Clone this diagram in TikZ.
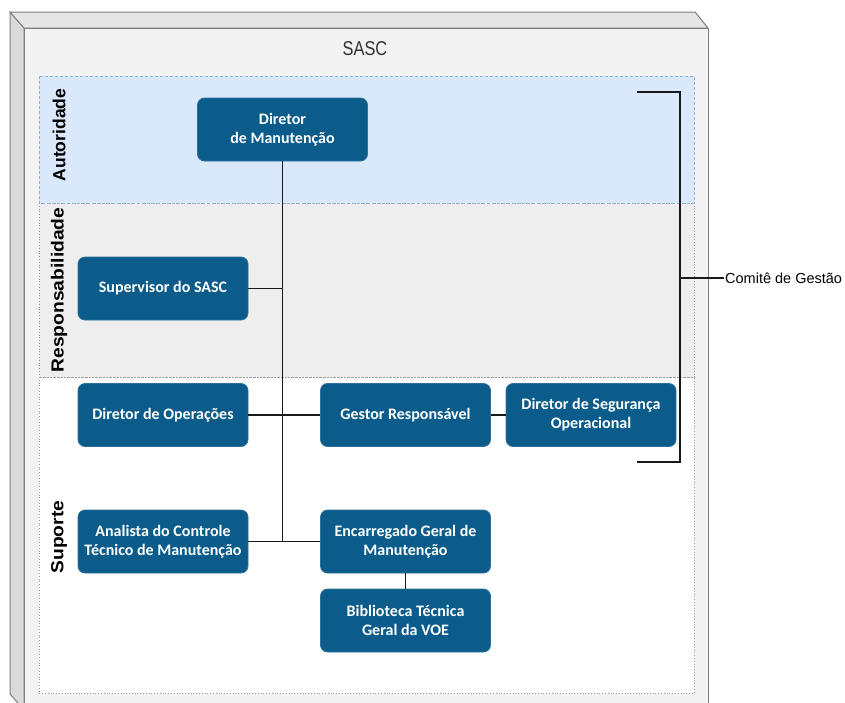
\documentclass[tikz,border=0pt]{standalone}
\usepackage{fontspec}
\setmainfont{Liberation Sans}
\newfontfamily\boxfont{Carlito}
\usepackage{graphicx}
\definecolor{boxblue}{HTML}{0B5C8A}
\definecolor{boxedge}{HTML}{2F729C}
\definecolor{lightblue}{HTML}{DAE8FC}
\definecolor{laneblue}{HTML}{8EB0E3}
\definecolor{lanegray}{HTML}{EEEEEE}
\definecolor{lanedot}{HTML}{9A9A9A}
\definecolor{frontgray}{HTML}{F3F3F3}
\definecolor{topgray}{HTML}{E6E6E6}
\definecolor{sidegray}{HTML}{DADADA}
\definecolor{framegray}{HTML}{7F7F7F}
\definecolor{titlegray}{HTML}{333333}
\begin{document}
\begin{tikzpicture}[x=1pt,y=-1pt,
  orgbox/.style={draw=boxedge, fill=boxblue, rounded corners=7pt, minimum width=170pt,
    minimum height=63pt, text=white, font=\boxfont\bfseries\fontsize{16}{19}\selectfont,
    align=center, inner sep=2pt, line width=0.8pt},
  link/.style={draw=black!90, line width=1.5pt},
  lanelabel/.style={rotate=90, font=\bfseries\fontsize{17.5}{20}\selectfont, inner sep=0pt},
  framepart/.style={draw=framegray, line width=1pt}]
\useasboundingbox (0,0) rectangle (845,702);
% 3D frame
\filldraw[framepart, fill=sidegray] (10,12) -- (24,28) -- (24,710) -- (10,694) -- cycle;
\filldraw[framepart, fill=topgray] (10,12) -- (695,12) -- (708,28) -- (24,28) -- cycle;
\filldraw[framepart, fill=frontgray] (24,28) rectangle (708,710);
\node[text=titlegray, font=\fontsize{20}{22}\selectfont] (title) at (365,49) {\scalebox{0.82}[1]{SASC}};
% lanes
\filldraw[draw=lanedot, dotted, line width=0.8pt, fill=white] (39,377) rectangle (694,693);
\filldraw[draw=lanedot, dotted, line width=0.8pt, fill=lanegray] (39,203) rectangle (694,377);
\filldraw[draw=laneblue, dash pattern=on 3pt off 2pt, line width=0.8pt, fill=lightblue] (39,76) rectangle (694,203);
\node[lanelabel] (l1) at (59,135) {Autoridade};
\node[lanelabel] (l2) at (59,290) {\scalebox{1.1}[1]{Responsabilidade}};
\node[lanelabel] (l3) at (59,537) {\scalebox{1.1}[1]{Suporte}};
% boxes
\node[orgbox] (dm) at (282.5,129.5) {Diretor\\de Manutenção};
\node[orgbox] (sup) at (163,288.5) {Supervisor do SASC};
\node[orgbox] (dop) at (163,415) {Diretor de Operações};
\node[orgbox] (gr) at (405.5,415) {Gestor Responsável};
\node[orgbox] (dso) at (591,415) {Diretor de Segurança\\Operacional};
\node[orgbox] (an) at (163,541.5) {Analista do Controle\\Técnico de Manutenção};
\node[orgbox] (enc) at (405.5,541.5) {Encarregado Geral de\\Manutenção};
\node[orgbox] (bib) at (405.5,620.5) {Biblioteca Técnica\\Geral da VOE};
% connectors
\coordinate (trunkbot) at (dm.south |- an.east);
\draw[link] (dm.south) -- (trunkbot);
\draw[link] (sup.east) -- (sup.east -| dm.south);
\draw[link] (dop.east) -- (gr.west);
\draw[link] (gr.east) -- (dso.west);
\draw[link] (an.east) -- (enc.west);
\draw[link] (enc.south) -- (bib.north);
% bracket
\coordinate (btop) at (637,92);
\coordinate (bbot) at (637,462);
\coordinate (bmid) at (680,278);
\node[anchor=west, font=\fontsize{14.5}{16}\selectfont, inner sep=1pt] (cg) at (724,278) {Comitê de Gestão};
\draw[link] (btop) -- (btop -| bmid) -- (bbot -| bmid) -- (bbot);
\draw[link] (bmid) -- (cg.west);
\end{tikzpicture}
\end{document}
